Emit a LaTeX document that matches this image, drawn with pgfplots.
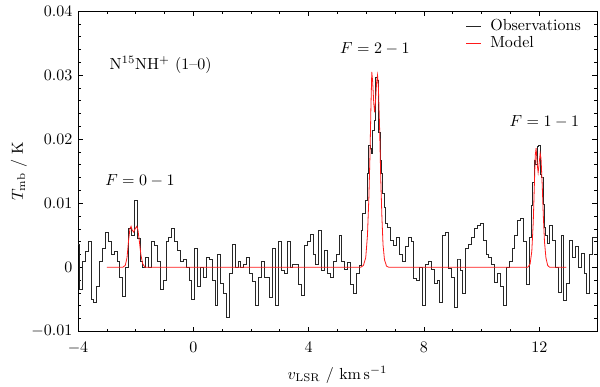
\documentclass[border=0pt]{standalone}
\usepackage{pgfplots}
\usepackage{pgfplotstable}
\pgfplotsset{compat=1.18}

% observed spectrum, v_LSR (km/s) vs T_mb (K)
\pgfplotstableread{
v T
-4.0 0.0036
-3.9 -0.0035
-3.8 0.0010
-3.7 0.0025
-3.6 0.0040
-3.5 -0.0050
-3.4 -0.0055
-3.3 -0.0030
-3.2 0.0010
-3.1 0.0030
-3.0 0.0055
-2.9 0.0040
-2.8 0.0020
-2.7 0.0025
-2.6 0.0010
-2.5 -0.0015
-2.4 -0.0045
-2.3 0.0000
-2.2 0.0060
-2.1 0.0050
-2.0 0.0104
-1.9 0.0045
-1.8 0.0010
-1.7 0.0000
-1.6 0.0015
-1.5 0.0000
-1.4 0.0040
-1.3 0.0035
-1.2 0.0010
-1.1 -0.0035
-1.0 -0.0020
-0.9 0.0040
-0.8 0.0047
-0.7 0.0060
-0.6 0.0040
-0.5 0.0026
-0.4 0.0010
-0.3 0.0012
-0.2 0.0000
-0.1 -0.0020
0.0 -0.0050
0.1 0.0030
0.2 -0.0030
0.3 0.0000
0.4 -0.0015
0.5 0.0015
0.6 0.0012
0.7 -0.0020
0.8 -0.0060
0.9 0.0020
1.0 -0.0025
1.1 -0.0040
1.2 -0.0078
1.3 -0.0010
1.4 0.0036
1.5 0.0000
1.6 0.0010
1.7 0.0000
1.8 0.0005
1.9 0.0015
2.0 -0.0010
2.1 -0.0022
2.2 -0.0060
2.3 -0.0015
2.4 0.0010
2.5 -0.0015
2.6 -0.0015
2.7 -0.0047
2.8 0.0030
2.9 -0.0060
3.0 0.0040
3.1 -0.0005
3.2 -0.0010
3.3 0.0040
3.4 0.0000
3.5 0.0005
3.6 0.0005
3.7 -0.0026
3.8 -0.0044
3.9 0.0034
4.0 0.0040
4.1 0.0052
4.2 0.0020
4.3 0.0005
4.4 0.0057
4.5 -0.0005
4.6 0.0026
4.7 -0.0010
4.8 -0.0015
4.9 0.0010
5.0 0.0020
5.1 0.0050
5.2 0.0010
5.3 -0.0003
5.4 0.0008
5.5 -0.0026
5.6 -0.0040
5.7 -0.0010
5.8 0.0003
5.85 0.0058
5.90 0.0084
5.95 0.0084
6.00 0.0105
6.05 0.0146
6.10 0.0190
6.15 0.0185
6.20 0.0178
6.25 0.0214
6.30 0.0230
6.35 0.0297
6.40 0.0292
6.45 0.0210
6.50 0.0167
6.55 0.0146
6.60 0.0115
6.65 0.0094
6.70 0.0068
6.75 0.0063
6.80 0.0063
6.9 0.0042
7.0 0.0035
7.1 0.0047
7.2 0.0020
7.3 0.0010
7.4 0.0032
7.5 0.0047
7.6 0.0040
7.7 -0.0018
7.8 -0.0020
7.9 0.0000
8.0 -0.0060
8.1 0.0005
8.2 0.0010
8.3 -0.0003
8.4 -0.0025
8.5 -0.0020
8.6 -0.0055
8.7 0.0050
8.8 0.0055
8.9 -0.0002
9.0 -0.0015
9.1 -0.0062
9.2 0.0013
9.3 -0.0005
9.4 -0.0040
9.5 0.0030
9.6 0.0036
9.7 0.0047
9.8 0.0060
9.9 0.0065
10.0 0.0068
10.1 0.0042
10.2 0.0020
10.3 0.0015
10.4 0.0005
10.5 -0.0023
10.6 -0.0010
10.7 -0.0030
10.8 -0.0060
10.9 0.0000
11.0 0.0010
11.1 0.0030
11.2 0.0050
11.3 0.0073
11.4 0.0076
11.5 0.0040
11.6 -0.0026
11.70 0.0047
11.75 0.0097
11.80 0.0133
11.85 0.0167
11.90 0.0160
11.95 0.0188
12.00 0.0190
12.05 0.0145
12.10 0.0141
12.15 0.0099
12.20 0.0063
12.25 0.0050
12.3 0.0037
12.4 0.0066
12.5 0.0042
12.6 0.0000
12.7 -0.0039
12.8 0.0050
12.9 -0.0052
13.0 -0.0025
13.1 0.0042
13.2 0.0016
13.3 0.0032
13.4 0.0000
13.5 0.0021
13.6 -0.0010
13.7 -0.0041
13.8 0.0020
13.9 0.0047
14.0 0.0047
}\obsdata

% hyperfine model
\pgfplotstableread{
v T
-3.00 0
-2.45 0
-2.36 0.0003
-2.30 0.0015
-2.25 0.0040
-2.20 0.0060
-2.16 0.0064
-2.12 0.0058
-2.07 0.0055
-2.02 0.0060
-1.96 0.0064
-1.92 0.0058
-1.87 0.0040
-1.82 0.0020
-1.76 0.0006
-1.68 0
5.80 0
5.90 0.0003
5.98 0.0015
6.04 0.0050
6.09 0.0110
6.13 0.0180
6.16 0.0250
6.19 0.0305
6.22 0.0290
6.26 0.0255
6.29 0.0242
6.32 0.0260
6.36 0.0290
6.39 0.0300
6.42 0.0280
6.46 0.0220
6.50 0.0140
6.54 0.0080
6.58 0.0035
6.63 0.0012
6.70 0.0002
6.78 0
11.60 0
11.68 0.0005
11.74 0.0025
11.79 0.0070
11.83 0.0130
11.86 0.0175
11.89 0.0186
11.93 0.0160
11.96 0.0148
11.99 0.0160
12.03 0.0178
12.06 0.0170
12.10 0.0130
12.14 0.0080
12.18 0.0040
12.23 0.0015
12.29 0.0003
12.36 0
12.94 0
}\modeldata

\begin{document}
\begin{tikzpicture}
\begin{axis}[
  at={(0,0)}, anchor=south west,
  width=324pt, height=200pt, scale only axis,
  xmin=-4, xmax=14, ymin=-0.01, ymax=0.04,
  xtick={-4,0,4,8,12}, minor x tick num=3,
  ytick={-0.01,0,0.01,0.02,0.03,0.04}, minor y tick num=4,
  scaled y ticks=false,
  yticklabel style={/pgf/number format/fixed,/pgf/number format/precision=2},
  xticklabel style={yshift=-3pt},
  major tick length=3pt, minor tick length=1.6pt,
  every tick/.style={black,line width=0.4pt},
  axis line style={line width=0.5pt},
  xlabel={$v_{\rm LSR}$ / km\,s$^{-1}$},
  ylabel={$T_{\rm mb}$ / K},
  xlabel shift=1pt,
  ylabel shift=-4pt,
  legend style={draw=none,fill=none,at={(0.985,0.995)},anchor=north east,
    font=\normalsize,row sep=-2pt},
  legend cell align=left,
  legend image code/.code={\draw[#1] (-0.05cm,0cm) -- (0.28cm,0cm);
    \path (0.4cm,0cm);},
]
\addplot[black!85,line width=0.5pt,const plot mark mid] table[x=v,y=T] {\obsdata};
\addlegendentry{Observations}
\addplot[red!90!white,line width=0.5pt,sharp plot] table[x=v,y=T] {\modeldata};
\addlegendentry{Model}
\node[anchor=west] at (axis cs:-3.1,0.0316) {N$^{15}$NH$^{+}$ (1--0)};
\node at (axis cs:-1.85,0.0136) {$F=0-1$};
\node at (axis cs:6.3,0.0342) {$F=2-1$};
\node at (axis cs:12.18,0.0227) {$F=1-1$};
\end{axis}
\pgfresetboundingbox
\path[use as bounding box] (-48.7pt,-34.3pt) rectangle (325.9pt,206.9pt);
\end{tikzpicture}
\end{document}
